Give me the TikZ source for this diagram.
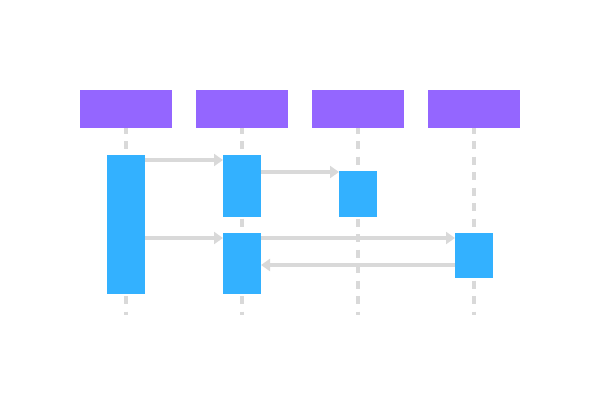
\documentclass[tikz,border=0pt]{standalone}
\usetikzlibrary{arrows.meta}

\definecolor{headcol}{HTML}{9466FF}
\definecolor{actcol}{HTML}{33B1FF}
\definecolor{linecol}{HTML}{D9D9D9}

\begin{document}
\begin{tikzpicture}
[x=1pt,y=-1pt,%
  every node/.style={shape=rectangle,inner sep=0pt,outer sep=0pt},%
  head/.style={fill=headcol,minimum width=92pt,minimum height=38pt},%
  act/.style={fill=actcol,minimum width=38pt},%
  life/.style={linecol,line width=4pt,dash pattern=on 8pt off 7.5pt,dash phase=2.5pt},%
  msg/.style={-{Triangle[length=9pt,width=12pt]},linecol,line width=4pt}]
\useasboundingbox (0,0) rectangle (601,404);
% header boxes
\node[head] (h1) at (126,109) {};
\node[head] (h2) at (242,109) {};
\node[head] (h3) at (358,109) {};
\node[head] (h4) at (474,109) {};
% lifelines
\foreach \i/\x in {1/126,2/242,3/358,4/474}
  \coordinate (e\i) at (\x,315);
\foreach \i in {1,...,4}
  \draw[life] (h\i.south) -- (e\i);
% activation boxes
\node[act,minimum height=139pt] (a1) at (126,224.5) {};
\node[act,minimum height=62pt] (a2) at (242,186) {};
\node[act,minimum height=46pt] (a3) at (358,194) {};
\node[act,minimum height=61pt] (a4) at (242,263.5) {};
\node[act,minimum height=45pt] (a5) at (474,255.5) {};
% messages
\draw[msg] ([yshift=-5pt]a1.north east) -- ([yshift=-5pt]a2.north west);
\draw[msg] ([yshift=-17pt]a2.north east) -- ([yshift=-1pt]a3.north west);
\draw[msg] ([yshift=-83pt]a1.north east) -- ([yshift=-5pt]a4.north west);
\draw[msg] ([yshift=-5pt]a4.north east) -- ([yshift=-5pt]a5.north west);
\draw[msg] ([yshift=-32pt]a5.north west) -- ([yshift=-32pt]a4.north east);
\end{tikzpicture}
\end{document}
